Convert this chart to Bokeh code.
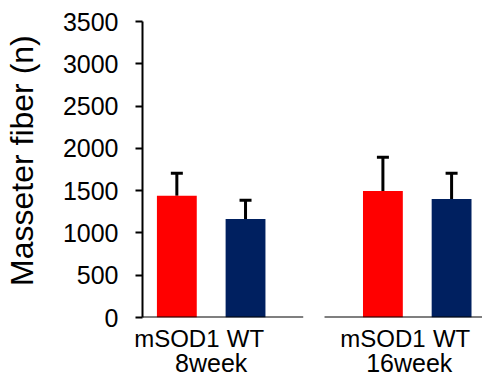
from bokeh.plotting import figure
from bokeh.models import Range1d, FixedTicker, Whisker, TeeHead, ColumnDataSource, LinearAxis
from bokeh.embed import file_html
from bokeh.resources import INLINE

groups = ["8week", "16week"]
genotypes = ["mSOD1", "WT"]
means = [1440, 1165, 1495, 1400]
errors = [265, 220, 400, 307]
bar_colors = ["#FF0000", "#002060", "#FF0000", "#002060"]
y_ticks = [0, 500, 1000, 1500, 2000, 2500, 3000, 3500]
y_title = "Masseter fiber (n)"

# layout (positions in category units)
xs = [0.5 + 3 * g + i for g in range(len(groups)) for i in range(len(genotypes))]
geno_labels = [gt for g in groups for gt in genotypes]
group_x = [1.0, 4.0]
PX = 342 / 4.95  # pixels per unit
geno_offsets_px = [0, 0, 0, 0]
group_offsets_px = [0, -8]
axis_spans = [(0.0, 2.34), (2.65, 4.95)]

FONT = "Liberation Sans"

p = figure(width=482, height=379, output_backend="svg", toolbar_location=None,
           x_range=Range1d(0, 4.95), y_range=Range1d(0, 3500),
           min_border_left=140, min_border_right=0, min_border_top=21, min_border_bottom=0)
p.outline_line_color = None
p.grid.visible = False
p.xaxis.visible = False
p.background_fill_color = "white"
p.border_fill_color = "white"

ya = p.yaxis[0]
ya.ticker = FixedTicker(ticks=y_ticks)
ya.minor_tick_line_color = None
ya.major_tick_in = 0
ya.major_tick_out = 7
ya.major_tick_line_width = 2
ya.major_tick_line_color = "black"
ya.axis_line_width = 2
ya.axis_line_color = "black"
ya.major_label_standoff = 17
ya.major_label_text_font = FONT
ya.major_label_text_font_size = "25px"
ya.major_label_text_color = "black"
# two non-breaking spaces lift the centred title slightly, as in the reference
ya.axis_label = "\u00a0\u00a0" + y_title
ya.axis_label_text_font = FONT
ya.axis_label_text_font_size = "32px"
ya.axis_label_text_font_style = "normal"
ya.axis_label_text_color = "black"
ya.axis_label_standoff = 20

src = ColumnDataSource(dict(x=xs, top=means, color=bar_colors,
                            upper=[m + e for m, e in zip(means, errors)]))
p.vbar(x="x", top="top", width=0.58, fill_color="color", line_color=None, source=src)

w = Whisker(base="x", lower="top", upper="upper", source=src, dimension="height",
            line_color="black", line_width=3,
            upper_head=TeeHead(size=12, line_width=3, line_color="black"), lower_head=None)
p.add_layout(w)

# broken baseline
p.segment(x0=[s[0] for s in axis_spans], x1=[s[1] for s in axis_spans],
          y0=[0] * len(axis_spans), y1=[0] * len(axis_spans), line_color="black", line_width=2)


def label_axis(positions, offsets, texts, size, standoff):
    ticks = [x + o / PX for x, o in zip(positions, offsets)]
    ax = LinearAxis(ticker=FixedTicker(ticks=ticks),
                    major_label_overrides={t: s for t, s in zip(ticks, texts)})
    ax.axis_line_color = None
    ax.major_tick_line_color = None
    ax.minor_tick_line_color = None
    ax.major_tick_out = 0
    ax.major_tick_in = 0
    ax.major_label_standoff = standoff
    ax.major_label_text_font = FONT
    ax.major_label_text_font_size = size
    ax.major_label_text_color = "black"
    p.add_layout(ax, "below")


label_axis(xs, geno_offsets_px, geno_labels, "24px", 7)
label_axis(group_x, group_offsets_px, groups, "25px", -6)

open("out.html", "w").write(file_html(p, INLINE))
